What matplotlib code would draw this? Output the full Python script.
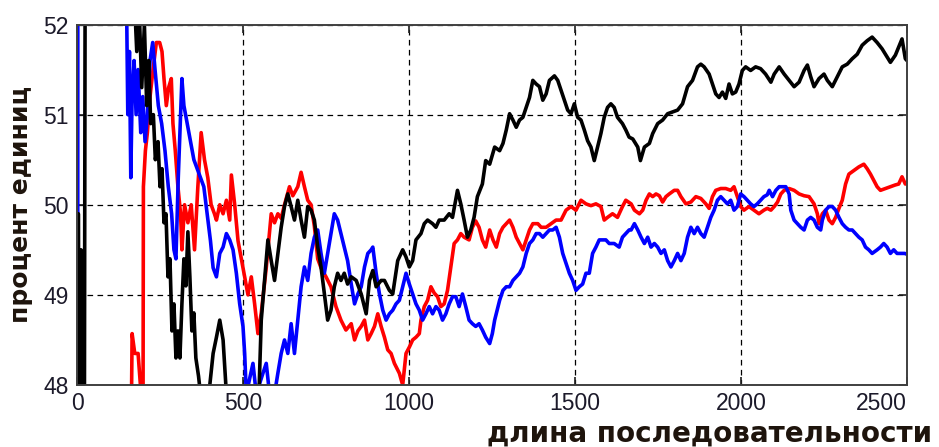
import matplotlib
matplotlib.use("Agg")
import matplotlib.pyplot as plt

# running share of ones (%) for three sequences, sampled along the length
x_red = [1, 60, 120, 155, 164, 166, 174, 184, 193, 199, 200, 206, 212, 220, 229, 239, 249, 256, 262,
         269, 276, 284, 289, 296, 304, 312, 316, 324, 334, 344, 354, 364, 374, 384, 394, 404,
         414, 420, 430, 440, 450, 460, 465, 475, 485, 495, 505, 515, 525, 535, 545, 555, 570,
         585, 595, 605, 615, 625, 640, 650, 665, 675, 685, 695, 705, 715, 725, 735, 750, 765,
         780, 795, 810, 826, 836, 846, 856, 866, 876, 886, 896, 906, 916, 926, 936, 946, 956,
         971, 981, 991, 1001, 1011, 1021, 1031, 1036, 1046, 1056, 1066, 1076, 1086, 1096, 1106,
         1116, 1126, 1136, 1146, 1156, 1166, 1181, 1191, 1201, 1211, 1221, 1231, 1243, 1253,
         1263, 1273, 1283, 1293, 1303, 1313, 1323, 1333, 1343, 1353, 1363, 1373, 1388, 1398,
         1413, 1428, 1443, 1458, 1473, 1488, 1503, 1518, 1533, 1548, 1563, 1578, 1588, 1598,
         1613, 1628, 1643, 1653, 1669, 1679, 1694, 1704, 1714, 1724, 1734, 1744, 1754, 1764,
         1774, 1784, 1799, 1809, 1819, 1834, 1849, 1864, 1879, 1894, 1904, 1914, 1924, 1939,
         1954, 1969, 1979, 1989, 1999, 2009, 2024, 2039, 2054, 2069, 2079, 2090, 2100, 2110,
         2120, 2130, 2145, 2160, 2175, 2190, 2205, 2220, 2230, 2235, 2245, 2255, 2265, 2275,
         2285, 2295, 2305, 2315, 2325, 2340, 2355, 2370, 2380, 2390, 2400, 2410, 2420, 2435,
         2450, 2465, 2475, 2485, 2495, 2500]
y_red = [20, 40, 45, 47, 47.8, 48.57, 48.35, 48.35, 47.9, 47.95, 50.2, 50.6, 50.8, 51.2, 51.5, 51.8,
         51.8, 51.7, 51.4, 51.1, 51.3, 51.4, 50.9, 50.6, 50.2, 49.9, 49.5, 50.0, 49.8, 50.0,
         49.5, 50.2, 50.8, 50.5, 50.3, 50.0, 49.9, 49.83, 50.0, 49.9, 50.05, 49.83, 50.33,
         50.0, 49.6, 49.4, 49.2, 49.0, 49.2, 48.9, 48.57, 48.8, 49.3, 49.9, 49.8, 49.9, 49.85,
         50.0, 50.2, 50.1, 50.2, 50.36, 50.2, 50.05, 50.0, 49.76, 49.4, 49.3, 49.2, 49.09,
         48.87, 48.72, 48.61, 48.68, 48.5, 48.6, 48.65, 48.72, 48.5, 48.57, 48.65, 48.79,
         48.65, 48.53, 48.39, 48.35, 48.24, 48.13, 48.0, 48.35, 48.42, 48.5, 48.53, 48.57,
         48.72, 48.87, 48.94, 49.09, 49.02, 48.98, 48.87, 48.9, 49.05, 49.31, 49.57, 49.61,
         49.68, 49.64, 49.61, 49.75, 49.82, 49.75, 49.61, 49.53, 49.72, 49.61, 49.53, 49.68,
         49.75, 49.79, 49.83, 49.75, 49.64, 49.57, 49.5, 49.61, 49.72, 49.79, 49.79, 49.75,
         49.75, 49.79, 49.83, 49.83, 49.94, 49.98, 49.94, 50.05, 50.01, 49.99, 50.01, 49.98,
         49.83, 49.86, 49.9, 49.86, 49.98, 50.05, 50.01, 49.94, 49.9, 49.94, 50.05, 50.12,
         50.09, 50.12, 50.1, 50.03, 50.09, 50.12, 50.16, 50.16, 50.09, 50.01, 50.03, 50.09,
         50.07, 50.01, 49.96, 50.09, 50.16, 50.18, 50.18, 50.16, 50.2, 50.09, 49.98, 49.94,
         49.98, 49.94, 49.9, 49.94, 49.96, 49.94, 49.98, 50.03, 50.12, 50.16, 50.18, 50.16,
         50.12, 50.1, 50.09, 50.01, 49.9, 49.79, 49.9, 49.94, 49.83, 49.79, 49.86, 49.96,
         50.05, 50.23, 50.34, 50.38, 50.42, 50.45, 50.4, 50.34, 50.27, 50.2, 50.16, 50.18,
         50.2, 50.22, 50.23, 50.31, 50.23, 50.24]

x_blue = [1, 3, 60, 120, 148, 150, 153, 158, 162, 166, 172, 178, 184, 192, 198, 205, 212, 220, 228,
          235, 245, 255, 265, 275, 285, 292, 298, 305, 312, 316, 322, 332, 342, 352, 362, 372,
          382, 392, 402, 410, 420, 430, 440, 450, 460, 470, 480, 490, 500, 505, 510, 530, 540,
          560, 570, 580, 595, 605, 615, 625, 635, 645, 655, 665, 675, 685, 695, 705, 715, 725,
          735, 745, 755, 765, 775, 785, 795, 805, 815, 826, 836, 846, 856, 866, 876, 886, 891,
          901, 911, 921, 931, 941, 951, 961, 971, 981, 991, 1001, 1011, 1021, 1031, 1041, 1051,
          1061, 1071, 1081, 1091, 1101, 1111, 1121, 1131, 1141, 1151, 1161, 1171, 1181, 1191,
          1201, 1211, 1221, 1231, 1243, 1251, 1258, 1268, 1273, 1283, 1293, 1303, 1313, 1323,
          1333, 1343, 1353, 1363, 1373, 1383, 1393, 1403, 1413, 1423, 1433, 1443, 1453, 1463,
          1473, 1483, 1493, 1503, 1513, 1523, 1533, 1543, 1553, 1563, 1573, 1583, 1593, 1603,
          1618, 1633, 1643, 1653, 1663, 1669, 1679, 1689, 1699, 1709, 1719, 1729, 1739, 1749,
          1759, 1769, 1779, 1789, 1799, 1809, 1819, 1829, 1839, 1849, 1859, 1869, 1879, 1889,
          1899, 1909, 1919, 1929, 1939, 1949, 1959, 1969, 1979, 1989, 1999, 2009, 2019, 2029,
          2039, 2049, 2059, 2069, 2079, 2085, 2095, 2105, 2115, 2125, 2135, 2145, 2150, 2160,
          2170, 2180, 2190, 2200, 2210, 2220, 2230, 2240, 2245, 2255, 2265, 2275, 2285, 2295,
          2305, 2315, 2325, 2335, 2345, 2355, 2365, 2375, 2385, 2395, 2410, 2420, 2430, 2440,
          2450, 2460, 2470, 2480, 2493, 2500]
y_blue = [30, 60, 57, 54, 52.5, 52.0, 51.0, 51.7, 50.3, 51.2, 51.6, 51.0, 51.5, 50.8, 51.2, 50.7,
          51.0, 51.6, 51.8, 51.5, 51.1, 50.9, 50.6, 50.2, 49.9, 49.5, 49.4, 50.3, 51.0, 51.4,
          51.1, 50.9, 50.7, 50.5, 50.4, 50.3, 50.2, 49.9, 49.6, 49.3, 49.2, 49.46, 49.53, 49.68,
          49.61, 49.5, 49.24, 48.9, 48.65, 48.35, 47.9, 48.24, 47.9, 48.13, 48.24, 47.9, 47.9,
          48.13, 48.35, 48.5, 48.35, 48.68, 48.35, 48.72, 49.09, 49.31, 49.16, 49.46, 49.64,
          49.72, 49.46, 49.24, 49.46, 49.68, 49.9, 49.83, 49.68, 49.53, 49.38, 49.12, 48.9,
          49.01, 49.09, 49.31, 49.46, 49.5, 49.53, 49.24, 49.01, 48.83, 48.72, 48.79, 48.83,
          48.9, 48.94, 49.09, 49.24, 49.12, 49.01, 48.9, 48.83, 48.72, 48.79, 48.87, 48.79,
          48.87, 48.83, 48.72, 48.79, 48.9, 48.98, 48.98, 48.87, 49.01, 48.87, 48.72, 48.68,
          48.65, 48.68, 48.61, 48.53, 48.46, 48.57, 48.72, 48.87, 48.94, 49.05, 49.09, 49.09,
          49.16, 49.2, 49.24, 49.31, 49.46, 49.57, 49.61, 49.68, 49.68, 49.64, 49.68, 49.72,
          49.72, 49.75, 49.64, 49.46, 49.35, 49.24, 49.16, 49.05, 49.09, 49.12, 49.24, 49.24,
          49.46, 49.53, 49.61, 49.61, 49.61, 49.57, 49.57, 49.53, 49.64, 49.68, 49.72, 49.72,
          49.79, 49.72, 49.64, 49.57, 49.64, 49.53, 49.57, 49.53, 49.46, 49.5, 49.38, 49.31,
          49.38, 49.46, 49.38, 49.46, 49.64, 49.75, 49.68, 49.75, 49.68, 49.64, 49.75, 49.86,
          49.94, 50.05, 50.09, 50.05, 50.01, 50.05, 49.94, 49.98, 50.12, 50.09, 50.05, 50.01,
          49.98, 50.01, 50.05, 50.09, 50.11, 50.16, 50.09, 50.16, 50.2, 50.2, 50.2, 50.12,
          49.94, 49.83, 49.79, 49.75, 49.72, 49.83, 49.86, 49.83, 49.75, 49.72, 49.83, 49.94,
          49.98, 49.98, 49.94, 49.86, 49.79, 49.75, 49.72, 49.72, 49.68, 49.64, 49.61, 49.53,
          49.5, 49.46, 49.5, 49.53, 49.57, 49.53, 49.46, 49.5, 49.46, 49.46, 49.46, 49.45]

x_black = [1, 4, 8, 12, 16, 22, 27, 60, 120, 174, 180, 188, 195, 203, 210, 216, 222, 230, 236, 244,
           250, 256, 262, 268, 274, 280, 286, 292, 298, 304, 310, 316, 322, 328, 334, 340, 346,
           352, 358, 366, 372, 385, 400, 410, 420, 430, 440, 450, 480, 520, 548, 555, 565, 575,
           585, 595, 605, 615, 625, 635, 645, 655, 665, 675, 685, 695, 705, 715, 725, 735, 745,
           755, 765, 775, 785, 795, 805, 815, 826, 841, 856, 871, 881, 891, 901, 916, 926, 941,
           951, 966, 981, 991, 1001, 1011, 1021, 1036, 1046, 1056, 1071, 1081, 1091, 1106, 1121,
           1131, 1146, 1156, 1166, 1176, 1186, 1196, 1206, 1221, 1231, 1243, 1258, 1273, 1283,
           1293, 1303, 1313, 1323, 1333, 1343, 1353, 1363, 1373, 1383, 1393, 1403, 1413, 1423,
           1438, 1448, 1458, 1468, 1478, 1488, 1498, 1508, 1518, 1528, 1538, 1548, 1558, 1568,
           1578, 1588, 1598, 1608, 1618, 1628, 1643, 1653, 1663, 1674, 1689, 1697, 1709, 1724,
           1734, 1749, 1764, 1779, 1794, 1809, 1824, 1839, 1854, 1869, 1879, 1889, 1904, 1914,
           1924, 1934, 1944, 1954, 1964, 1974, 1984, 1994, 2004, 2014, 2029, 2044, 2059, 2074,
           2090, 2100, 2115, 2130, 2145, 2160, 2175, 2190, 2200, 2210, 2220, 2235, 2250, 2260,
           2275, 2290, 2305, 2320, 2335, 2350, 2365, 2380, 2395, 2410, 2425, 2440, 2450, 2465,
           2475, 2485, 2495, 2500]
y_black = [30, 49.9, 44, 49.5, 45, 47, 58, 58, 54, 52.2, 51.7, 52.1, 51.3, 52.0, 51.1, 51.6, 50.9,
           51.0, 50.5, 50.7, 50.2, 50.4, 49.8, 49.9, 49.2, 49.4, 48.6, 48.9, 48.3, 48.6, 48.3,
           48.9, 49.4, 49.1, 49.7, 49.2, 48.6, 48.8, 48.3, 48.1, 47.9, 47.6, 48.0, 48.35, 48.53,
           48.72, 48.5, 47.9, 47.5, 47.6, 47.9, 48.72, 49.16, 49.61, 49.38, 49.16, 49.46, 49.75,
           49.98, 50.12, 49.98, 49.83, 50.05, 49.83, 49.64, 49.98, 49.94, 49.83, 49.53, 49.31,
           49.01, 48.72, 48.83, 49.09, 49.24, 49.16, 49.24, 49.12, 49.2, 49.16, 49.01, 48.79,
           49.16, 49.27, 49.09, 49.16, 49.16, 49.05, 49.01, 49.38, 49.5, 49.42, 49.31, 49.38,
           49.61, 49.68, 49.79, 49.83, 49.79, 49.75, 49.83, 49.83, 49.9, 49.86, 50.16, 50.01,
           49.83, 49.64, 49.72, 49.86, 50.09, 50.23, 50.49, 50.45, 50.64, 50.6, 50.68, 50.83,
           51.01, 50.94, 50.86, 50.94, 50.97, 51.08, 51.19, 51.38, 51.34, 51.31, 51.16, 51.23,
           51.38, 51.43, 51.38, 51.27, 51.16, 51.05, 51.01, 51.12, 50.97, 50.94, 50.83, 50.71,
           50.64, 50.49, 50.64, 50.79, 50.97, 51.08, 51.12, 51.08, 50.97, 50.9, 50.83, 50.75,
           50.73, 50.64, 50.49, 50.64, 50.68, 50.79, 50.9, 50.94, 51.01, 51.03, 51.05, 51.12,
           51.31, 51.38, 51.53, 51.56, 51.53, 51.45, 51.34, 51.23, 51.19, 51.25, 51.18, 51.34,
           51.23, 51.25, 51.34, 51.49, 51.53, 51.49, 51.53, 51.51, 51.45, 51.36, 51.45, 51.53,
           51.45, 51.38, 51.31, 51.36, 51.49, 51.55, 51.42, 51.31, 51.4, 51.45, 51.38, 51.31,
           51.42, 51.53, 51.56, 51.62, 51.67, 51.77, 51.82, 51.86, 51.8, 51.73, 51.64, 51.58,
           51.66, 51.75, 51.84, 51.62, 51.6]

x_ticks = [0, 500, 1000, 1500, 2000, 2500]
y_ticks = [48, 49, 50, 51, 52]

fig = plt.figure(figsize=(9.39, 4.47), dpi=100)
ax = fig.add_axes([77 / 939, 1 - 385 / 447, 830 / 939, 360.5 / 447])

ax.plot(x_red, y_red, color="#ff0000", lw=2.6)
ax.plot(x_blue, y_blue, color="#0000ff", lw=2.6)
ax.plot(x_black, y_black, color="#000000", lw=2.6)

ax.set_xlim(0, 2500)
ax.set_ylim(48, 52)
ax.set_xticks(x_ticks)
ax.set_yticks(y_ticks)
ax.set_xticklabels([str(v) for v in x_ticks], family="Liberation Sans")
ax.set_yticklabels([str(v) for v in y_ticks], family="Liberation Sans")
ax.set_axisbelow(True)
ax.grid(True, color="black", lw=0.9, linestyle=(0, (4.5, 3.5)))

for s in ax.spines.values():
    s.set_color("#404040")
    s.set_linewidth(1.4)

ax.tick_params(direction="in", length=6, width=1.2, color="#202020",
               top=True, right=True, labelsize=16.5, labelcolor="#1c1a2a")
ax.tick_params(axis="x", pad=5)
ax.tick_params(axis="y", pad=6)
# last x label sits flush with the right edge of the box
ax.xaxis.get_major_ticks()[-1].label1.set_horizontalalignment("right")

ax.set_ylabel("процент единиц", fontsize=18, fontweight="bold", color="#1e140c",
              family="DejaVu Sans")
ax.yaxis.set_label_coords(-0.053, 0.5)
fig.text(932 / 939, 5 / 447, "длина последовательности", fontsize=20, fontweight="bold",
         color="#1e140c", family="DejaVu Sans", ha="right", va="baseline")

fig.savefig("out.png", dpi=100)
